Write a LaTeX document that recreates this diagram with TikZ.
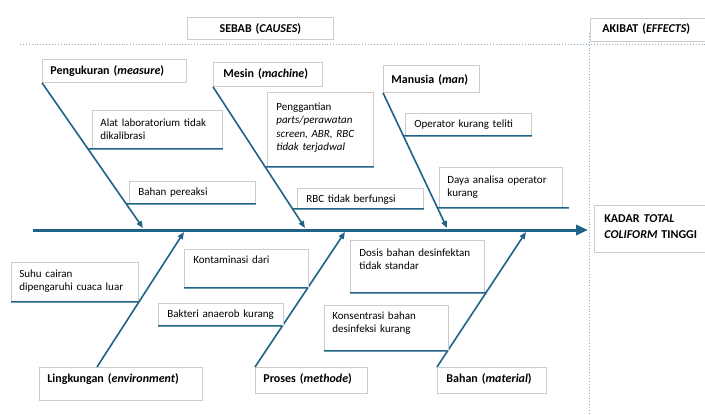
\documentclass[tikz,border=0pt]{standalone}
\usepackage{fontspec}
\setmainfont{Carlito}
\usetikzlibrary{arrows.meta}
\definecolor{fishbone}{rgb}{0.1216,0.3882,0.5255}
\definecolor{boxline}{rgb}{0.80,0.80,0.80}
\definecolor{guideline}{rgb}{0.55,0.69,0.80}
\begin{document}
\begin{tikzpicture}[x=1pt,y=-1pt,
  cause/.style={draw=boxline,line width=0.8pt,fill=white,anchor=north west,align=left,inner xsep=8pt,inner ysep=0pt,text height=15pt,font=\fontsize{11}{13.5}\selectfont},
  category/.style={cause,font=\bfseries\fontsize{12}{14}\selectfont},
  bone/.style={fishbone,line width=1.6pt,-{Triangle[length=7pt,width=5.5pt]}},
  spine/.style={fishbone,line width=3pt,-{Triangle[length=12pt,width=10pt]}},
  under/.style={fishbone,line width=1.5pt},
  guide/.style={guideline,line width=0.9pt,dotted}]
\useasboundingbox[fill=white] (0,0) rectangle (705,415);
\draw[guide] (20,44) -- (705,44);
\draw[guide] (589,33) -- (589,415);
\node[category,align=center,text width=130pt,text depth=7pt] (sebab) at (187,17) {SEBAB (\textit{CAUSES})};
\node[category,text width=110pt,text height=14pt,text depth=9pt,inner xsep=12pt] (akibat) at (590,18) {AKIBAT (\textit{EFFECTS})};
\node[category,text width=112pt,text height=17pt,text depth=30pt,inner xsep=10pt] (kadar) at (594,205) {KADAR \textit{TOTAL}\\[2pt]\textit{COLIFORM} TINGGI};
\node[category,text width=128pt,text depth=8pt] (pengukuran) at (42,59) {Pengukuran (\textit{measure})};
\node[category,text width=89pt,inner xsep=10pt,text depth=9pt] (mesin) at (213,62) {Mesin (\textit{machine})};
\node[category,text width=80pt,text height=18pt,text depth=9pt] (manusia) at (383,65) {Manusia (\textit{man})};
\node[category,text width=147pt,text depth=18pt] (lingkungan) at (39,367) {Lingkungan (\textit{environment})};
\node[category,text width=96pt,text depth=11pt] (proses) at (255,367) {Proses (\textit{methode})};
\node[category,text width=91pt,inner xsep=9pt,text depth=11pt] (bahan) at (437,367) {Bahan (\textit{material})};
\coordinate (tail) at (33,230);
\coordinate (head) at (588,230);
\coordinate (tipA) at (143,228);
\coordinate (tipB) at (305,228);
\coordinate (tipC) at (447,228);
\coordinate (tipD) at (184,232);
\coordinate (tipE) at (345,232);
\coordinate (tipF) at (526,232);
\coordinate (lingstart) at ([xshift=58pt]lingkungan.north west);
\draw[spine] (tail) -- (head);
\draw[bone] (pengukuran.south west) -- (tipA);
\draw[bone] (mesin.south west) -- (tipB);
\draw[bone] (manusia.south west) -- (tipC);
\draw[bone] (lingstart) -- (tipD);
\draw[bone] (proses.north west) -- (tipE);
\draw[bone] (bahan.north west) -- (tipF);
\node[cause,text width=114pt,text height=16pt,text depth=22pt] (alat) at (92,110) {Alat laboratorium tidak\\dikalibrasi};
\node[cause,text width=108pt,text height=14pt,text depth=8pt,inner xsep=9pt] (pereaksi) at (129,181) {Bahan pereaksi};
\node[cause,text width=88pt,text height=18pt,text depth=56pt,inner xsep=9pt] (penggantian) at (267,92) {Penggantian\\\textit{parts/perawatan}\\\textit{screen, ABR, RBC}\\\textit{tidak terjadwal}};
\node[cause,text width=108pt,text height=14pt,text depth=6pt,inner xsep=9pt] (rbc) at (297,188) {RBC tidak berfungsi};
\node[cause,text width=108pt,text height=14pt,text depth=8pt,inner xsep=9pt] (operator) at (405,113) {Operator kurang teliti};
\node[cause,text width=107pt,text height=16pt,text depth=24pt] (daya) at (439,167) {Daya analisa operator\\kurang};
\node[cause,text width=111pt,text depth=24pt] (suhu) at (11,262) {Suhu cairan\\dipengaruhi cuaca luar};
\node[cause,text width=106pt,text height=14pt,text depth=24pt,inner xsep=9pt] (kontaminasi) at (184,249) {Kontaminasi dari};
\node[cause,text width=107pt,text height=14pt,text depth=8pt,inner xsep=9pt] (bakteri) at (158,303) {Bakteri anaerob kurang};
\node[cause,text width=116pt,text height=16pt,text depth=36pt,inner xsep=9pt] (dosis) at (350,240) {Dosis bahan desinfektan\\tidak standar};
\node[cause,text width=108pt,text height=14pt,text depth=31pt] (konsentrasi) at (324,305) {Konsentrasi bahan\\desinfeksi kurang};
\draw[under] (intersection of pengukuran.south west--tipA and alat.south west--alat.south east) -- (alat.south east);
\draw[under] (intersection of pengukuran.south west--tipA and pereaksi.south west--pereaksi.south east) -- (pereaksi.south east);
\draw[under] (intersection of mesin.south west--tipB and penggantian.south west--penggantian.south east) -- (penggantian.south east);
\draw[under] (intersection of mesin.south west--tipB and rbc.south west--rbc.south east) -- (rbc.south east);
\draw[under] (intersection of manusia.south west--tipC and operator.south west--operator.south east) -- (operator.south east);
\draw[under] (intersection of manusia.south west--tipC and daya.south west--daya.south east) -- ([xshift=6pt]daya.south east);
\draw[under] (suhu.south west) -- (intersection of lingstart--tipD and suhu.south west--suhu.south east);
\draw[under] (kontaminasi.south west) -- (intersection of proses.north west--tipE and kontaminasi.south west--kontaminasi.south east);
\draw[under] (bakteri.south west) -- (intersection of proses.north west--tipE and bakteri.south west--bakteri.south east);
\draw[under] (dosis.south west) -- (intersection of bahan.north west--tipF and dosis.south west--dosis.south east);
\draw[under] (konsentrasi.south west) -- (intersection of bahan.north west--tipF and konsentrasi.south west--konsentrasi.south east);
\end{tikzpicture}
\end{document}
